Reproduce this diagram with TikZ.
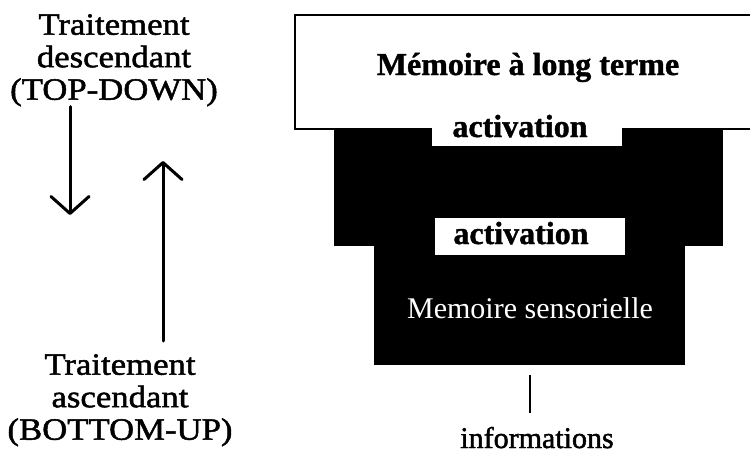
\documentclass[tikz,border=0pt]{standalone}
\usepackage{fontspec}
\setmainfont{Liberation Serif}
\newfontfamily\widefont[FakeStretch=1.12,FakeBold=1.6]{Liberation Serif}
\newfontfamily\heavyfont[FakeBold=1.6]{Liberation Serif}
\newfontfamily\boldheavy[FakeBold=1.2]{Liberation Serif Bold}
\usetikzlibrary{arrows.meta}
\begin{document}
\begin{tikzpicture}[x=1pt,y=-1pt,
  lbl/.style={inner sep=0pt, align=center, font=\widefont\fontsize{31}{32.5}\selectfont},
  boldlbl/.style={inner sep=0pt, anchor=base, font=\boldheavy\fontsize{32}{33}\selectfont},
  arr/.style={line width=3pt, line cap=round, -{Straight Barb[length=17pt,width=38pt,line width=3pt,round]}},
  bar/.style={line width=2.5pt},
  ltm/.style={line width=2.5pt, fill=white, draw=black}
  ]
\useasboundingbox (0,0) rectangle (750,453);
% left side
\node[lbl, anchor=north] (td) at (114,14) {Traitement\\descendant\\(TOP-DOWN)};
\node[lbl, anchor=north] (bu) at (120,354) {Traitement\\ascendant\\(BOTTOM-UP)};
\coordinate (dtip) at (70,215);
\coordinate (utip) at (163,161);
\draw[arr] (td.south -| dtip) -- (dtip);
\draw[arr, shorten <=13pt] (bu.north -| utip) -- (utip);
% right side
\draw[ltm] (295,15) rectangle (760,129);
\fill[black] (334,128) rectangle (723,246);
\fill[black] (374,245) rectangle (685,365);
\fill[white] (432,126) rectangle (622,146);
\fill[white] (435,218) rectangle (625,255);
\node[boldlbl] (mlt) at (528,75) {Mémoire à long terme};
\node[boldlbl] (act1) at (520,137) {activation};
\node[boldlbl] (act2) at (521,244) {activation};
\node[inner sep=0pt, anchor=base, text=white, font=\fontsize{30}{32}\selectfont] (ms) at (530,318) {Memoire sensorielle};
\node[inner sep=0pt, anchor=base, font=\heavyfont\fontsize{30}{32}\selectfont] (info) at (537,448) {informations};
\coordinate (bartop) at (530,375);
\draw[bar, shorten >=14pt] (bartop) -- (info.north -| bartop);
\end{tikzpicture}
\end{document}
